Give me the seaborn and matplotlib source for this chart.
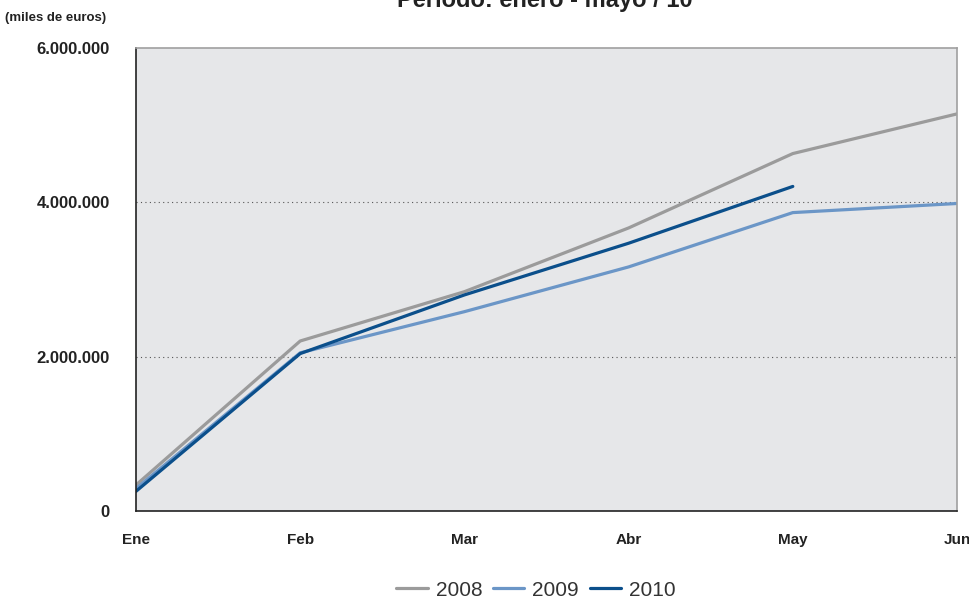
import pandas as pd
import seaborn as sns
import matplotlib.pyplot as plt
from matplotlib.ticker import FuncFormatter

# datos (miles de euros), acumulado por mes
meses = ["Ene", "Feb", "Mar", "Abr", "May", "Jun"]
v2008 = [337000, 2203000, 2842000, 3668000, 4632000, 5146000]
v2009 = [290000, 2050000, 2583000, 3163000, 3867000, 3985000]
v2010 = [255000, 2040000, 2800000, 3470000, 4206000]

sns.set_style("white")
plt.rcParams['font.family'] = ['Liberation Sans', 'DejaVu Sans']

rows = []
for year, vals in [("2008", v2008), ("2009", v2009), ("2010", v2010)]:
    for i, v in enumerate(vals):
        rows.append({"mes": i, "valor": v, "year": year})
df = pd.DataFrame(rows)

fig = plt.figure(figsize=(9.7, 5.98), dpi=100)
ax = fig.add_axes([136/970, 87/598, 821/970, 463/598])
ax.set_facecolor("#e6e7e9")

palette = {"2008": "#9b9b9b", "2009": "#6b96c7", "2010": "#0b4f8b"}
sns.lineplot(data=df, x="mes", y="valor", hue="year", palette=palette,
             linewidth=2.3, ax=ax, legend=True)

ax.set_xlim(0, 5)
ax.set_ylim(0, 6000000)
ax.set_xticks(range(len(meses)))
ax.set_xticklabels(meses, fontsize=11, fontweight="bold", color="#222222")
ax.set_yticks([0, 2000000, 4000000, 6000000])
ax.yaxis.set_major_formatter(FuncFormatter(lambda v, p: f"{int(v):,}".replace(",", ".")))
for lab in ax.get_yticklabels():
    lab.set_fontsize(12)
    lab.set_fontweight("bold")
    lab.set_color("#222222")
ax.set_xlabel("")
ax.set_ylabel("")
ax.tick_params(axis="x", direction="out", length=4, width=1, color="#222222", pad=12)
ax.tick_params(axis="y", direction="out", length=5, width=1, color="#222222", pad=14)

for y in [2000000, 4000000]:
    ax.axhline(y, color="#555555", linestyle=(0, (1, 3)), linewidth=0.8, zorder=0.5)

ax.spines["left"].set_color("#222222")
ax.spines["bottom"].set_color("#222222")
ax.spines["top"].set_color("#a0a0a0")
ax.spines["right"].set_color("#a0a0a0")
for s in ax.spines.values():
    s.set_linewidth(1.2)

handles, labels = ax.get_legend_handles_labels()
ax.get_legend().remove()
fig.legend(handles, labels, loc="center", bbox_to_anchor=(536/970, 8/598), ncol=3,
           frameon=False, fontsize=15, handlelength=1.5, columnspacing=0.5,
           handletextpad=0.4, labelcolor="#333333")

fig.text(545/970, 1.0, "Período: enero - mayo / 10", ha="center", va="center",
         fontsize=17, fontweight="bold", color="#222222")
fig.text(5/970, 1 - 18/598, "(miles de euros)", ha="left", va="center",
         fontsize=9.5, fontweight="bold", color="#222222")

fig.savefig("out.png", dpi=100)
